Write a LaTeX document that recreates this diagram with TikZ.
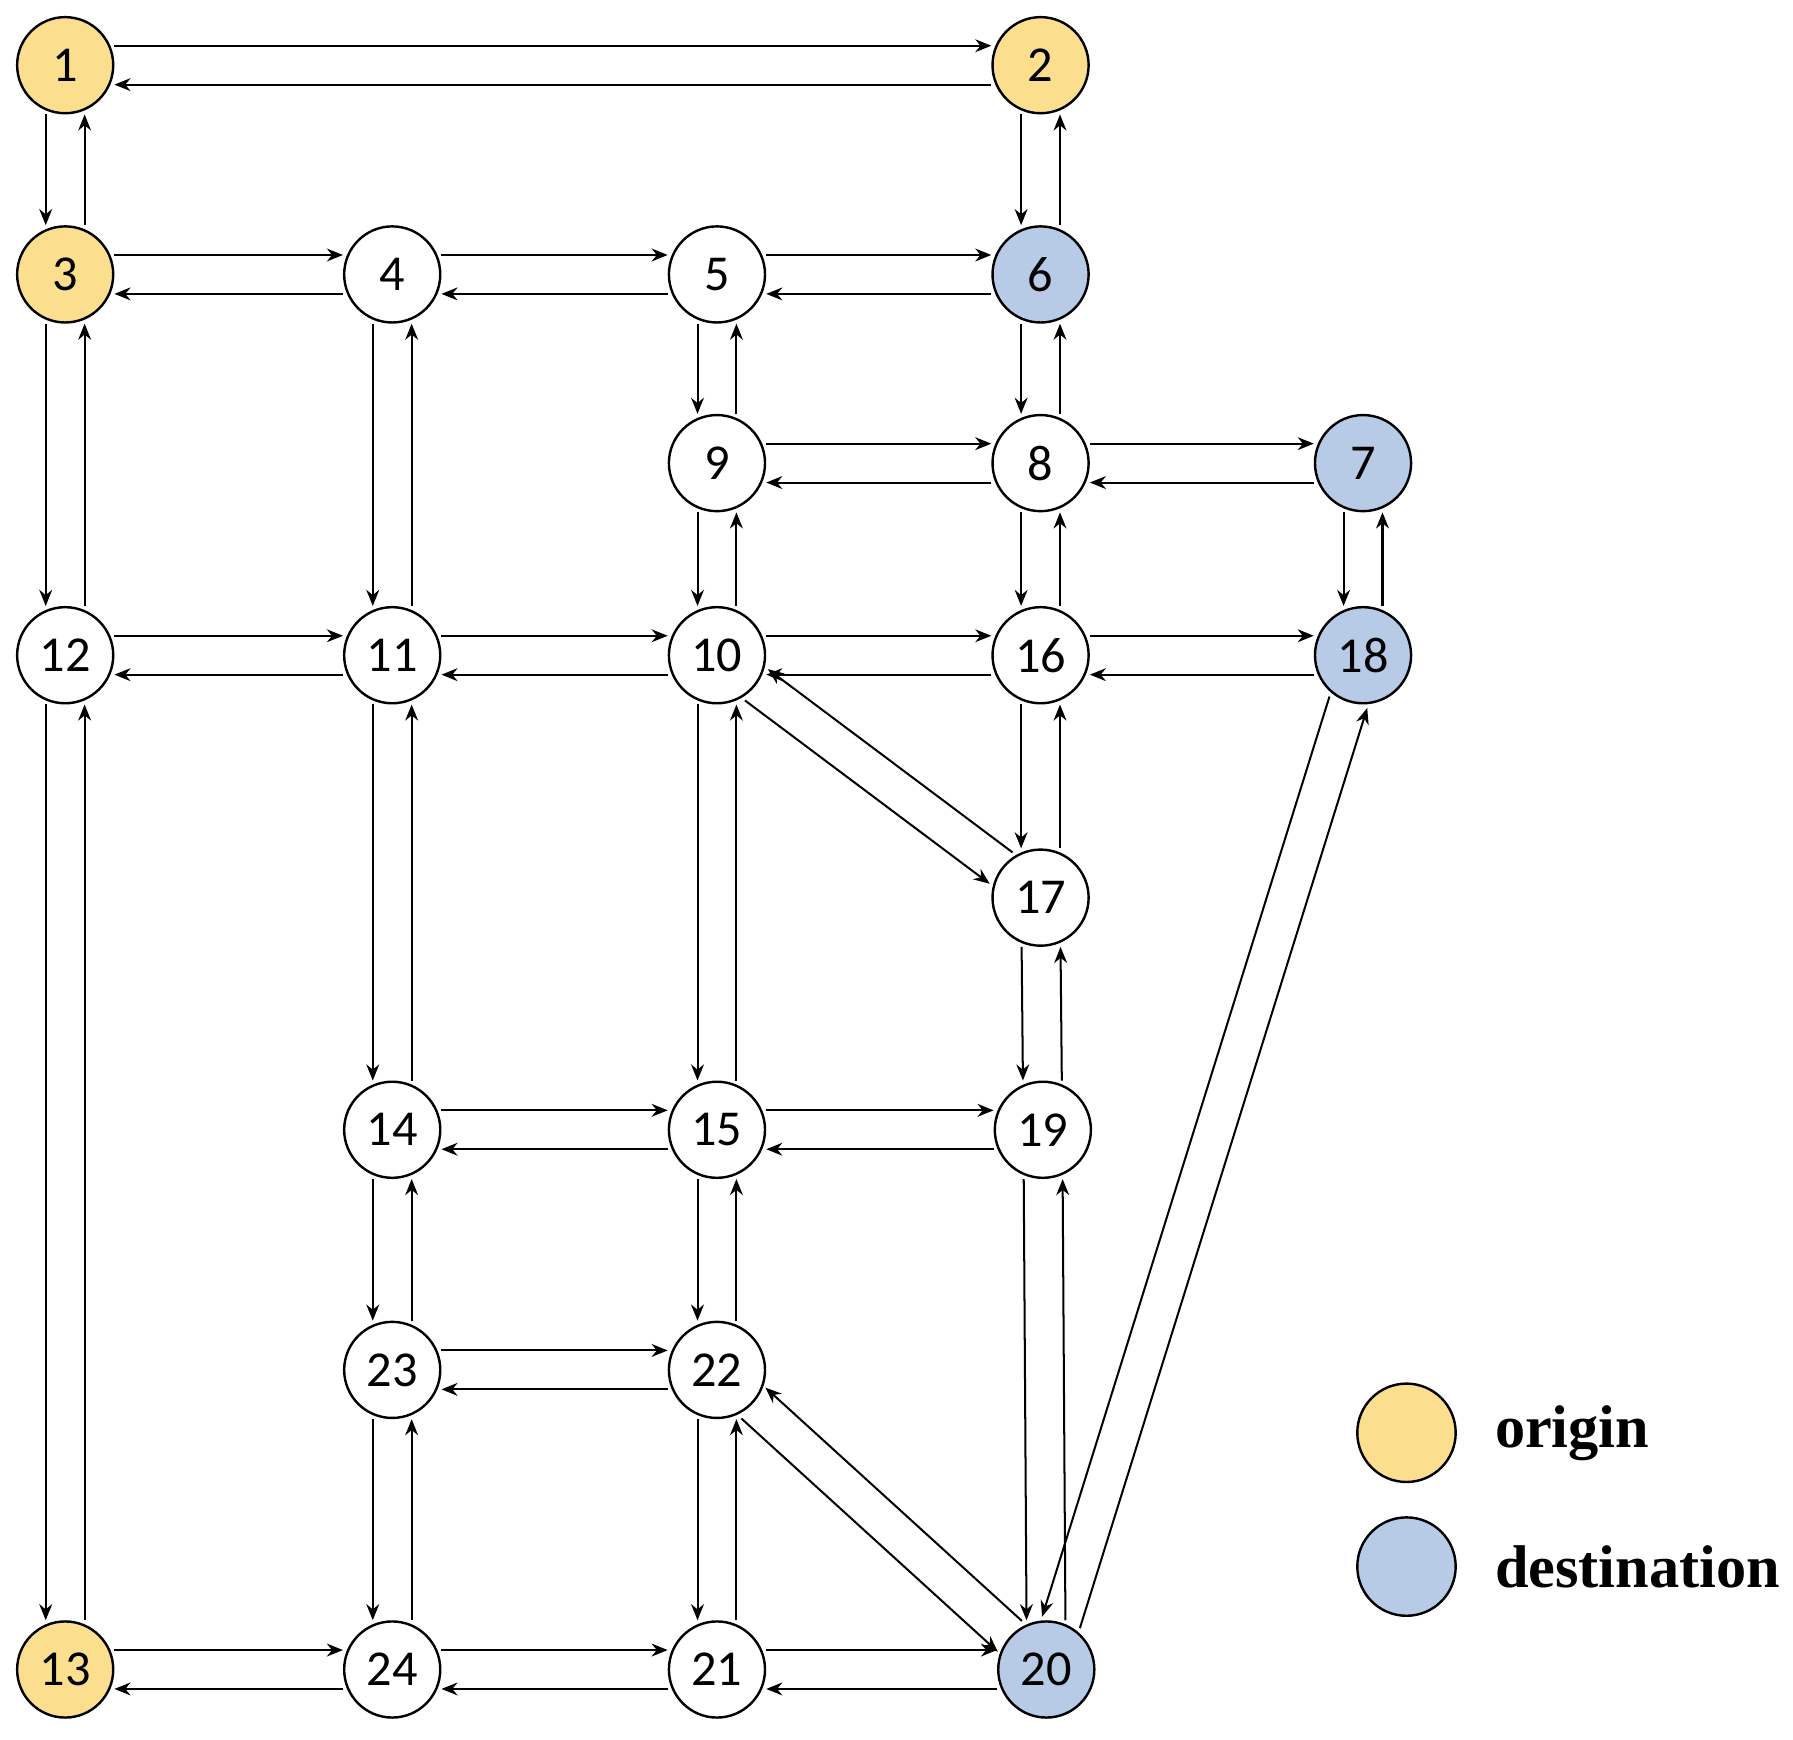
\documentclass[tikz,border=0pt]{standalone}
\usepackage{fontspec}
\setmainfont{Carlito}
\newfontfamily\legfont{Liberation Serif}
\usetikzlibrary{arrows.meta}
\definecolor{orig}{HTML}{FBDF8F}
\definecolor{dest}{HTML}{B7CBE6}
\begin{document}
\begin{tikzpicture}[x=0.01cm,y=-0.01cm,
  nd/.style={circle,draw,line width=0.6pt,minimum size=0.84cm,inner sep=0pt,font=\fontsize{12.5}{14}\selectfont,fill=white},
  ar/.style={-{Stealth[length=4pt,width=3.2pt]},line width=0.5pt}]
\useasboundingbox (0,0) rectangle (1568,1521);
\foreach \n/\x/\y/\c in {1/57/57/orig,2/910/57/orig,3/57/240/orig,4/343/240/white,5/627/240/white,6/910/240/dest,
 9/627/405/white,8/910/405/white,7/1192/405/dest,12/57/573/white,11/343/573/white,10/627/573/white,16/910/573/white,
 18/1192/573/dest,17/910/785/white,14/343/988/white,15/627/988/white,19/912/988/white,23/343/1198/white,22/627/1198/white,
 13/57/1460/orig,24/343/1460/white,21/627/1460/white,20/915/1460/dest}
 \node[nd,fill=\c] (n\n) at (\x,\y) {\n};
\newcommand\pairarrows[4]{%
 \draw[ar,transform canvas={xshift=#3,yshift=#4}] (n#1) -- (n#2);
 \draw[ar,transform canvas={xshift=-#3,yshift=-#4}] (n#2) -- (n#1);}
\foreach \a/\b in {1/2,3/4,4/5,5/6,9/8,8/7,12/11,11/10,10/16,16/18,14/15,15/19,23/22,13/24,24/21,21/20}
 \pairarrows{\a}{\b}{0cm}{0.17cm};
\foreach \a/\b in {1/3,2/6,6/8,5/9,9/10,8/16,7/18,3/12,4/11,12/13,11/14,10/15,16/17,17/19,14/23,15/22,22/21,23/24,19/20}
 \pairarrows{\a}{\b}{-0.17cm}{0cm};
\pairarrows{10}{17}{-0.1cm}{-0.137cm}
\pairarrows{22}{20}{-0.105cm}{-0.135cm}
\pairarrows{18}{20}{-0.165cm}{0.05cm}
\node[circle,draw,line width=0.6pt,fill=orig,minimum size=0.86cm] (lo) at (1230,1253) {};
\node[circle,draw,line width=0.6pt,fill=dest,minimum size=0.86cm] (ld) at (1230,1370) {};
\node[anchor=west,font=\legfont\bfseries\fontsize{15}{17}\selectfont] (to) at (1295,1253) {origin};
\node[anchor=west,font=\legfont\bfseries\fontsize{15}{17}\selectfont] (td) at (1295,1370) {destination};
\end{tikzpicture}
\end{document}
